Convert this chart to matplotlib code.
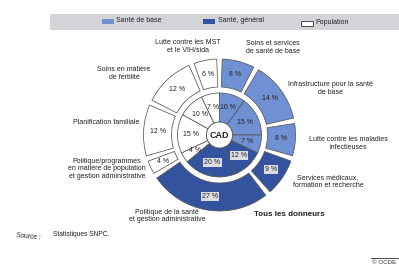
import matplotlib
matplotlib.use("Agg")
import matplotlib.pyplot as plt
import numpy as np

plt.rcParams['font.family'] = ['Liberation Sans', 'DejaVu Sans']

# ---- data ----
inner_values = [10, 15, 7, 12, 20, 4, 15, 10, 7]
inner_groups = ['base', 'base', 'base', 'gen', 'gen', 'pop', 'pop', 'pop', 'pop']

outer_values = [8, 14, 8, 9, 27, 4, 12, 12, 6]
outer_groups = ['base', 'base', 'base', 'gen', 'gen', 'pop', 'pop', 'pop', 'pop']
outer_names = [
    "Soins et services\nde santé de base",
    "Infrastructure pour la santé\nde base",
    "Lutte contre les maladies\ninfectieuses",
    "Services médicaux,\nformation et recherche",
    "Politique de la santé\net gestion administrative",
    "Politique/programmes\nen matière de population\net gestion administrative",
    "Planification familiale",
    "Soins en matière\nde fertilité",
    "Lutte contre les MST\net le VIH/sida",
]
legend_labels = ["Santé de base", "Santé, général", "Population"]

colors = {'base': '#7090d4', 'gen': '#34539f', 'pop': '#ffffff'}
edge = '#555555'

W, H = 399, 268
fig = plt.figure(figsize=(W / 100, H / 100), dpi=100)
ax = fig.add_axes([0, 0, 1, 1])
ax.set_xlim(0, W)
ax.set_ylim(0, H)
ax.set_aspect('equal')
ax.axis('off')

def Y(y):
    return H - y

cx, cy = 219.5, Y(135)
R_in, hole = 42, 13
R_out, R_out_in = 76, 48

# inner ring
iw, _ = ax.pie(inner_values, colors=[colors[g] for g in inner_groups],
               startangle=90, counterclock=False, radius=R_in, center=(cx, cy),
               wedgeprops=dict(width=R_in - hole, edgecolor=edge, linewidth=0.55),
               frame=True)
# outer ring
ow, _ = ax.pie(outer_values, colors=[colors[g] for g in outer_groups],
               startangle=90, counterclock=False, radius=R_out, center=(cx, cy),
               wedgeprops=dict(width=R_out - R_out_in, edgecolor=edge, linewidth=0.55),
               frame=True)
gap = np.degrees(4.5 / ((R_out + R_out_in) / 2))
for w in ow:
    w.set_theta1(w.theta1 + gap / 2)
    w.set_theta2(w.theta2 - gap / 2)

ax.set_xlim(0, W)
ax.set_ylim(0, H)
ax.axis('off')

# center circle
ax.add_patch(plt.Circle((cx, cy), hole, facecolor='white', edgecolor=edge, linewidth=0.55, zorder=3))
ax.text(cx, cy, "CAD", ha='center', va='center', fontsize=6.5, fontweight='bold', color='#222222', zorder=4)

def label_wedges(wedges, values, groups, rmid):
    for w, v, g in zip(wedges, values, groups):
        ang = np.radians((w.theta1 + w.theta2) / 2)
        x = cx + rmid * np.cos(ang)
        y = cy + rmid * np.sin(ang)
        kw = {}
        if g == 'gen':
            kw['bbox'] = dict(boxstyle='square,pad=0.15', facecolor='#dcdde3', edgecolor='none')
        ax.text(x, y, f"{v} %", ha='center', va='center', fontsize=5, color='#222222', zorder=5, **kw)

label_wedges(iw, inner_values, inner_groups, (R_in + hole) / 2 + 1)
label_wedges(ow, outer_values, outer_groups, (R_out + R_out_in) / 2)

# category names (positions in image pixels)
name_pos = [(273, 47.5), (330, 88.5), (348, 143.5), (328, 181.5), (167, 216),
            (107, 169), (106, 122), (124, 73.5), (188, 46.5)]
for name, (x, y) in zip(outer_names, name_pos):
    ax.text(x, Y(y), name, ha='center', va='center', fontsize=5, color='#222222',
            linespacing=1.15)

ax.text(289, Y(215), "Tous les donneurs", ha='center', va='center', fontsize=5.8,
        fontweight='bold', color='#222222')

# legend band
ax.add_patch(plt.Rectangle((50, Y(30)), W - 50, 16.5, facecolor='#d3d4d8', edgecolor='none'))
leg_items = [(102, 'base', 116), (203, 'gen', 218), (301, 'pop', 315)]
for (px, g, tx), lab in zip(leg_items, legend_labels):
    yy = 21 if g != 'pop' else 23
    ax.add_patch(plt.Rectangle((px, Y(yy) - 2.5), 12, 5, facecolor=colors[g],
                               edgecolor='#333333' if g == 'pop' else 'none', linewidth=0.6))
    ax.text(tx, Y(yy), lab, ha='left', va='center', fontsize=5, color='#222222')

# source
ax.text(16, Y(237), "Source :", ha='left', va='center', fontsize=4.8, color='#222222', rotation=-6)
ax.text(53, Y(235), "Statistiques SNPC.", ha='left', va='center', fontsize=4.8, color='#222222')

# bottom-right remnant
ax.plot([371, 399], [Y(258), Y(258)], color='#333333', linewidth=0.6)
ax.text(372, Y(263), "© OCDE", ha='left', va='center', fontsize=4.5, color='#333333')

fig.savefig("out.png", dpi=100, facecolor='white')
